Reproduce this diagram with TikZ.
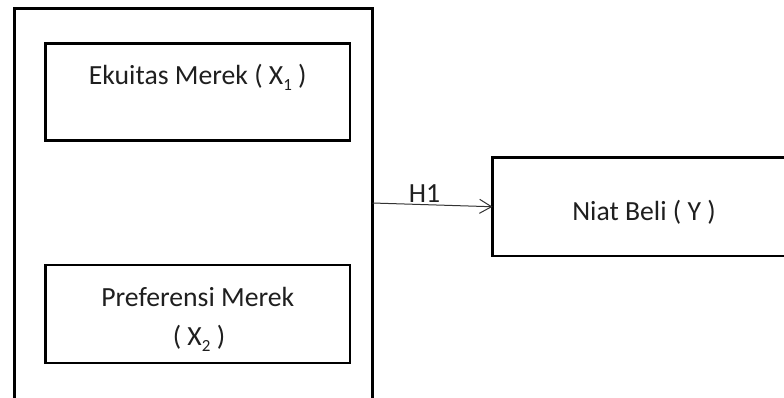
\documentclass[tikz,border=0pt]{standalone}
\usepackage{fontspec}
\setmainfont{Carlito}
\usetikzlibrary{arrows.meta}

\newcommand{\subidx}[1]{\raisebox{-0.22em}{\fontsize{17}{17}\selectfont #1}}

\tikzset{
  frame/.style={draw=black, line width=2.8pt, rectangle, inner sep=0pt, outer sep=0pt},
  caption/.style={inner sep=0pt, anchor=base, text=black!88,
                  font=\fontsize{27.7}{34}\selectfont},
  link/.style={draw=black!80, line width=1pt,
               -{Straight Barb[length=12pt,width=14pt,line width=1pt]}}
}

\begin{document}
\begin{tikzpicture}[x=1pt, y=-1pt]
  \useasboundingbox (0,0) rectangle (784,397);
  \fill[white] (0,0) rectangle (784,397);
  \clip (0,0) rectangle (784,397);

  % outer frame grouping the two independent variables
  \node[frame, minimum width=358pt, minimum height=420pt] (outer) at (193.5,218.5) {};

  % independent variables
  \node[frame, minimum width=304.5pt, minimum height=97pt] (x1box) at (197.75,92) {};
  \node[caption] (x1text) at (197.75,84) {Ekuitas Merek ( X\subidx{1} )};

  \node[frame, minimum width=304.5pt, minimum height=98pt] (x2box) at (197.75,314) {};
  \node[caption] (x2texta) at (197.75,306.7) {Preferensi Merek};
  \node[caption] (x2textb) at (199,345.7) {( X\subidx{2} )};

  % dependent variable
  \node[frame, minimum width=320pt, minimum height=98.5pt] (ybox) at (652.5,206.75) {};
  \node[caption] (ytext) at (644,220) {Niat Beli ( Y )};

  % hypothesis link
  \draw[link] (outer.east |- 0,203) -- (ybox.west);
  \node[caption] (h1) at (424.5,202) {H1};
\end{tikzpicture}
\end{document}
